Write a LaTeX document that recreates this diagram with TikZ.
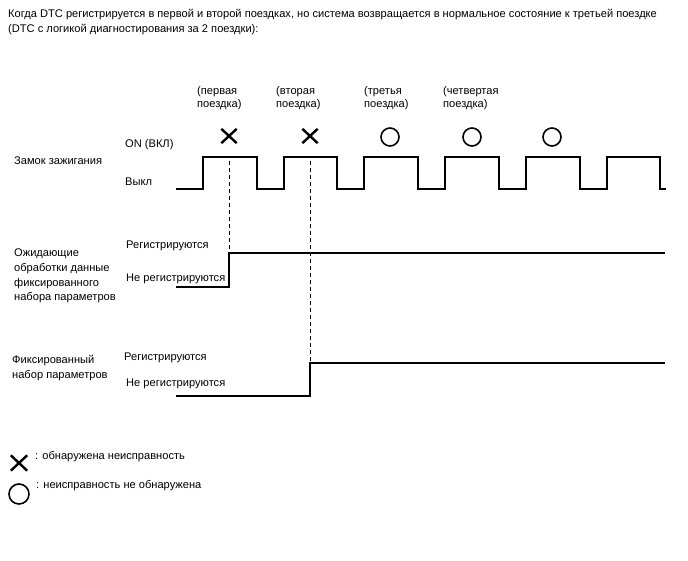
\documentclass[tikz,border=0pt]{standalone}
\usepackage{fontspec}
\setmainfont{Liberation Sans}
\usetikzlibrary{shapes.misc}
\begin{document}
\begin{tikzpicture}[x=1pt,y=-1pt,
  lbl/.style={anchor=base west,inner sep=0pt,font=\fontsize{11.1}{13}\selectfont},
  wave/.style={line width=1.1pt,line join=miter},
  stepline/.style={line width=1.7pt},
  guide/.style={line width=0.9pt,dash pattern=on 4pt off 3pt},
  xmark/.style={cross out,draw,line width=2.4pt,minimum width=13pt,minimum height=12pt,inner sep=0pt},
  omark/.style={circle,draw,line width=1.6pt,minimum size=18pt,inner sep=0pt}]
\useasboundingbox (0,0) rectangle (688,560);
% title
\node[lbl] (t1) at (8,17) {Когда DTC регистрируется в первой и второй поездках, но система возвращается в нормальное состояние к третьей поездке};
\node[lbl] (t2) at (8,32) {(DTC с логикой диагностирования за 2 поездки):};
% trip labels
\node[lbl] (p1a) at (197,94) {(первая};
\node[lbl] (p1b) at (197,107) {поездка)};
\node[lbl] (p2a) at (276,94) {(вторая};
\node[lbl] (p2b) at (276,107) {поездка)};
\node[lbl] (p3a) at (364,94) {(третья};
\node[lbl] (p3b) at (364,107) {поездка)};
\node[lbl] (p4a) at (443,94) {(четвертая};
\node[lbl] (p4b) at (443,107) {поездка)};
% markers
\node[xmark] (x1) at (229,136) {};
\node[xmark] (x2) at (310,136) {};
\node[omark] (o3) at (390,137) {};
\node[omark] (o4) at (472,137) {};
\node[omark] (o5) at (552,137) {};
% ignition
\node[lbl] (ign) at (14,164) {Замок зажигания};
\node[lbl] (on) at (125,147) {ON (ВКЛ)};
\node[lbl] (off) at (125,185) {Выкл};
\coordinate (w0) at (176,189);
\coordinate (wend) at (666,189);
\draw[wave] (w0) -- (203,189) -- (203,157) -- (257,157) -- (257,189)
  -- (284,189) -- (284,157) -- (337,157) -- (337,189)
  -- (364,189) -- (364,157) -- (418,157) -- (418,189)
  -- (445,189) -- (445,157) -- (499,157) -- (499,189)
  -- (526,189) -- (526,157) -- (580,157) -- (580,189)
  -- (607,189) -- (607,157) -- (660,157) -- (660,189) -- (wend);
% pending freeze frame
\node[lbl] (pl1) at (14,256) {Ожидающие};
\node[lbl] (pl2) at (14,271) {обработки данные};
\node[lbl] (pl3) at (14,286) {фиксированного};
\node[lbl] (pl4) at (14,300) {набора параметров};
\node[lbl] (preg) at (126,248) {Регистрируются};
\node[lbl] (pnreg) at (126,281) {Не регистрируются};
\coordinate (pa) at (176,287);
\coordinate (pb) at (229,287);
\coordinate (pc) at (229,253);
\coordinate (pd) at (665,253);
\draw[stepline] (pa) -- (pb) -- (pc) -- (pd);
% freeze frame
\node[lbl] (fl1) at (12,363) {Фиксированный};
\node[lbl] (fl2) at (12,378) {набор параметров};
\node[lbl] (freg) at (124,360) {Регистрируются};
\node[lbl] (fnreg) at (126,386) {Не регистрируются};
\coordinate (fa) at (176,396);
\coordinate (fb) at (310,396);
\coordinate (fc) at (310,363);
\coordinate (fd) at (665,363);
\draw[stepline] (fa) -- (fb) -- (fc) -- (fd);
% guides
\coordinate (g1) at (229,161);
\coordinate (g2) at (310,161);
\draw[guide] (g1) -- (pc);
\draw[guide] (g2) -- (fc);
% legend
\node[xmark,minimum width=14pt,minimum height=13pt] (lx) at (19,463) {};
\node[lbl] (lxt) at (35,459) {: обнаружена неисправность};
\node[omark,minimum size=20pt] (lo) at (19,494) {};
\node[lbl] (lot) at (36,488) {: неисправность не обнаружена};
\end{tikzpicture}
\end{document}
